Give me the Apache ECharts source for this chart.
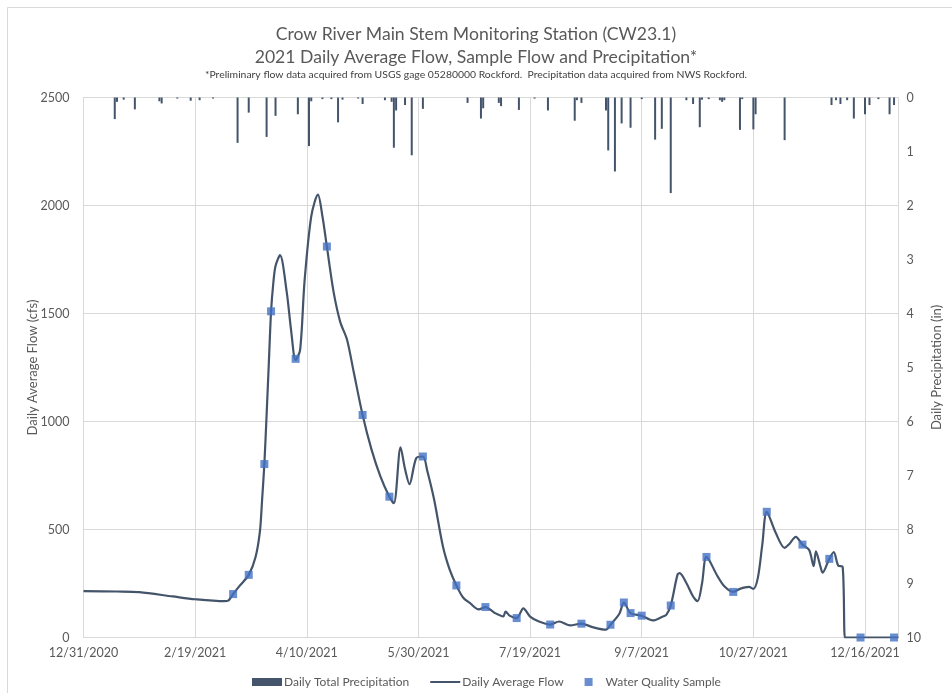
<!DOCTYPE html>
<html>
<head>
<meta charset="utf-8">
<script src="https://cdn.jsdelivr.net/npm/echarts@6/dist/echarts.min.js"></script>
<style>html,body{margin:0;padding:0;background:#fff}#c{width:952px;height:693px}</style>
</head>
<body>
<div id="c"></div>
<script>
var flowDates = ['2020-12-31','2021-01-15','2021-01-25','2021-02-09','2021-02-19','2021-03-04','2021-03-06','2021-03-08','2021-03-11','2021-03-15',
'2021-03-18','2021-03-20','2021-03-21','2021-03-22','2021-03-23','2021-03-24','2021-03-25','2021-03-26','2021-03-27','2021-03-29',
'2021-04-01','2021-04-03','2021-04-05','2021-04-07','2021-04-09','2021-04-12','2021-04-15','2021-04-17','2021-04-19','2021-04-22',
'2021-04-25','2021-04-28','2021-05-01','2021-05-05','2021-05-09','2021-05-13','2021-05-17','2021-05-19','2021-05-22','2021-05-24',
'2021-05-26','2021-05-29','2021-06-01','2021-06-03','2021-06-06','2021-06-10','2021-06-13','2021-06-16','2021-06-19','2021-06-22',
'2021-06-26','2021-06-29','2021-07-03','2021-07-07','2021-07-08','2021-07-10','2021-07-13','2021-07-16','2021-07-19','2021-07-23',
'2021-07-28','2021-08-01','2021-08-06','2021-08-11','2021-08-16','2021-08-22','2021-08-24','2021-08-28','2021-08-30','2021-09-02',
'2021-09-07','2021-09-12','2021-09-16','2021-09-18','2021-09-20','2021-09-23','2021-09-24','2021-09-27','2021-09-30','2021-10-02',
'2021-10-04','2021-10-06','2021-10-11','2021-10-14','2021-10-18','2021-10-21','2021-10-25','2021-10-27','2021-10-29','2021-10-31',
'2021-11-02','2021-11-06','2021-11-10','2021-11-12','2021-11-15','2021-11-18','2021-11-21','2021-11-23','2021-11-24','2021-11-26',
'2021-11-27','2021-11-30','2021-12-02','2021-12-04','2021-12-06','2021-12-07','2021-12-08','2021-12-31'];
var flowValues = [215,213,210,190,177,168,172,201,240,290,
370,490,640,803,1030,1270,1510,1640,1720,1770,
1600,1420,1285,1330,1650,1950,2050,1950,1810,1600,
1460,1380,1230,1030,870,745,652,622,880,780,
710,830,838,770,640,420,314,241,185,160,
130,141,115,98,120,100,90,135,97,74,
60,74,56,64,48,36,59,110,162,113,
101,79,95,105,148,290,298,252,190,168,
250,373,283,237,211,225,234,225,276,430,
582,485,415,432,466,430,405,330,399,330,
300,364,395,333,327,0,0,0];

var sampleDates = ['2021-03-08','2021-03-15','2021-03-22','2021-03-25','2021-04-05','2021-04-19','2021-05-05','2021-05-17','2021-06-01','2021-06-16',
'2021-06-29','2021-07-13','2021-07-28','2021-08-11','2021-08-24','2021-08-30','2021-09-02','2021-09-07','2021-09-20','2021-10-06',
'2021-10-18','2021-11-02','2021-11-18','2021-11-30','2021-12-14','2021-12-29'];
var sampleValues = [201,290,803,1510,1290,1810,1030,652,838,241,
141,90,60,64,59,162,113,101,148,373,
211,582,430,364,0,0];

var precipDates = ['2021-01-14','2021-01-15','2021-01-18','2021-01-23','2021-02-03','2021-02-04','2021-02-11','2021-02-17','2021-02-21','2021-02-27',
'2021-03-10','2021-03-15','2021-03-23','2021-03-27','2021-04-06','2021-04-11','2021-04-12','2021-04-17','2021-04-21','2021-04-24',
'2021-04-26','2021-05-03','2021-05-05','2021-05-15','2021-05-18','2021-05-19','2021-05-20','2021-05-24','2021-05-27','2021-06-01',
'2021-06-21','2021-06-27','2021-06-28','2021-07-05','2021-07-06','2021-07-14','2021-07-21','2021-07-27','2021-08-08','2021-08-09',
'2021-08-11','2021-08-22','2021-08-23','2021-08-26','2021-08-29','2021-09-02','2021-09-07','2021-09-13','2021-09-16','2021-09-20',
'2021-09-27','2021-09-30','2021-10-03','2021-10-04','2021-10-07','2021-10-12','2021-10-13','2021-10-14','2021-10-21','2021-10-22',
'2021-10-27','2021-10-28','2021-11-10','2021-12-01','2021-12-03','2021-12-05','2021-12-08','2021-12-11','2021-12-16','2021-12-18',
'2021-12-22','2021-12-27','2021-12-29'];
var precipValues = [0.40,0.08,0.04,0.22,0.07,0.11,0.02,0.06,0.05,0.02,
0.84,0.28,0.73,0.34,0.31,0.90,0.07,0.03,0.03,0.46,
0.04,0.02,0.12,0.05,0.08,0.93,0.24,0.14,1.07,0.21,
0.10,0.39,0.20,0.10,0.16,0.23,0.02,0.24,0.43,0.05,
0.10,0.24,0.98,1.37,0.48,0.56,0.03,0.78,0.58,1.77,
0.05,0.12,0.55,0.04,0.03,0.05,0.08,0.05,0.60,0.03,
0.59,0.31,0.79,0.14,0.05,0.12,0.05,0.39,0.31,0.14,
0.03,0.31,0.14];

var flowTicks = [0, 500, 1000, 1500, 2000, 2500];
var precipTicks = [0, 1, 2, 3, 4, 5, 6, 7, 8, 9, 10];

var ORIGIN = Date.UTC(2020, 11, 31);
function dayOf(s) { return (Date.parse(s) - ORIGIN) / 86400000; }
function fmt(v) { var d = new Date(ORIGIN + v * 86400000); return (d.getUTCMonth() + 1) + '/' + d.getUTCDate() + '/' + d.getUTCFullYear(); }
function pairs(ds, vs) { return ds.map(function (d, i) { return [dayOf(d), vs[i]]; }); }

var FONT = 'Lato';
var GREY = '#595959';
var chart = echarts.init(document.getElementById('c'), null, { renderer: 'canvas' });
chart.setOption({
  animation: false,
  backgroundColor: '#fff',
  textStyle: { fontFamily: FONT },
  title: {
    text: 'Crow River Main Stem Monitoring Station (CW23.1)\n2021 Daily Average Flow, Sample Flow and Precipitation*',
    subtext: '*Preliminary flow data acquired from USGS gage 05280000 Rockford.  Precipitation data acquired from NWS Rockford.',
    left: 'center', top: 18, itemGap: 1,
    textStyle: { fontFamily: FONT, fontSize: 17.6, fontWeight: 'normal', color: GREY, lineHeight: 23 },
    subtextStyle: { fontFamily: FONT, fontSize: 10.4, color: '#404040' }
  },
  graphic: [
    { type: 'line', shape: { x1: 7.5, y1: 7.5, x2: 952, y2: 7.5 }, style: { stroke: '#d9d9d9', lineWidth: 1 } },
    { type: 'line', shape: { x1: 7.5, y1: 7.5, x2: 7.5, y2: 693 }, style: { stroke: '#d9d9d9', lineWidth: 1 } }
  ],
  legend: {
    bottom: 0, left: 247, itemGap: 21, itemWidth: 30, itemHeight: 8,
    textStyle: { fontFamily: FONT, fontSize: 12, color: GREY, padding: [0, 0, 0, -3] },
    data: [
      { name: 'Daily Total Precipitation', icon: 'path://M0,0H30V8H0Z' },
      { name: 'Daily Average Flow', icon: 'path://M0,0H30V2H0Z' },
      { name: 'Water Quality Sample', icon: 'path://M0,0H8V8H0Z' }
    ]
  },
  grid: { left: 83.5, right: 53.5, top: 97.5, bottom: 55.5, containLabel: false },
  xAxis: {
    type: 'value', min: 0, max: 365, interval: 50,
    axisLine: { show: true, lineStyle: { color: '#d9d9d9' } },
    axisTick: { show: false },
    splitLine: { show: true, lineStyle: { color: '#d9d9d9' } },
    axisLabel: { formatter: fmt, color: GREY, fontSize: 12.5, margin: 9, showMaxLabel: false }
  },
  yAxis: [
    {
      type: 'value', min: flowTicks[0], max: flowTicks[flowTicks.length - 1], interval: 500,
      name: 'Daily Average Flow (cfs)', nameLocation: 'middle', nameRotate: 90, nameGap: 44, nameMoveOverlap: false,
      nameTextStyle: { fontFamily: FONT, fontSize: 13, color: GREY },
      axisLine: { show: true, lineStyle: { color: '#d9d9d9' } },
      axisTick: { show: false },
      splitLine: { show: true, lineStyle: { color: '#d9d9d9' } },
      axisLabel: { color: GREY, fontSize: 12.5, margin: 14, formatter: function (v) { return String(v); } }
    },
    {
      type: 'value', min: precipTicks[0], max: precipTicks[precipTicks.length - 1], interval: 1, inverse: true,
      name: 'Daily Precipitation (in)', nameLocation: 'middle', nameRotate: 90, nameGap: 32, nameMoveOverlap: false,
      nameTextStyle: { fontFamily: FONT, fontSize: 13, color: GREY },
      axisLine: { show: true, lineStyle: { color: '#d9d9d9' } },
      axisTick: { show: false },
      splitLine: { show: false },
      axisLabel: { color: GREY, fontSize: 12.5, margin: 8 }
    }
  ],
  series: [
    {
      name: 'Daily Total Precipitation', type: 'bar', yAxisIndex: 1, barWidth: 2,
      itemStyle: { color: '#44546a' }, data: pairs(precipDates, precipValues), z: 2
    },
    {
      name: 'Daily Average Flow', type: 'line', yAxisIndex: 0, showSymbol: false,
      smooth: 0.3,
      lineStyle: { color: '#44546a', width: 2.2 }, itemStyle: { color: '#44546a' },
      data: pairs(flowDates, flowValues), z: 3
    },
    {
      name: 'Water Quality Sample', type: 'scatter', yAxisIndex: 0, symbol: 'rect', symbolSize: 8,
      itemStyle: { color: '#4472c4' }, data: pairs(sampleDates, sampleValues), z: 4
    }
  ]
});
</script>
</body>
</html>
